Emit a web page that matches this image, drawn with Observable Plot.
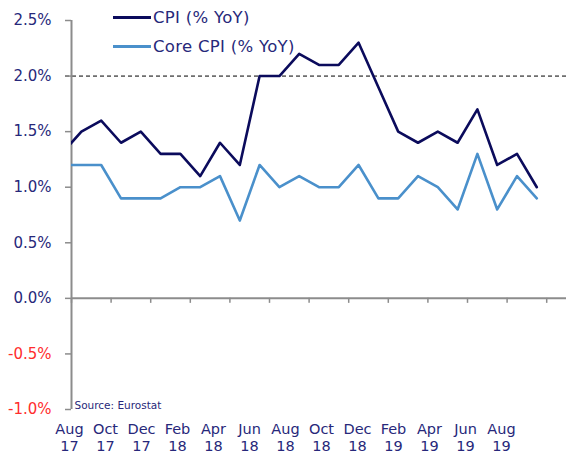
<!DOCTYPE html>
<html>
<head>
<meta charset="utf-8">
<script src="https://cdn.jsdelivr.net/npm/d3@7"></script>
<script src="https://cdn.jsdelivr.net/npm/@observablehq/plot@0.6"></script>
<style>
  html, body { margin: 0; padding: 0; background: #fff; }
  #wrap { position: relative; width: 566px; height: 455px; font-family: "DejaVu Sans", sans-serif; }
  #wrap svg { display: block; }
  .legend { position: absolute; left: 113px; font-size: 16.5px; color: #27287a; display: flex; align-items: center; white-space: nowrap; letter-spacing: 0.3px; }
  .legend .sw { width: 38px; height: 0; border-top-width: 3px; border-top-style: solid; margin-right: 2px; }
</style>
</head>
<body>
<div id="wrap"></div>
<script>
// Data (monthly, Jul 17 – Jul 19; Jul 17 falls just before the axis and is clipped)
const months = ["Jul 17","Aug 17","Sep 17","Oct 17","Nov 17","Dec 17","Jan 18","Feb 18","Mar 18","Apr 18","May 18","Jun 18","Jul 18","Aug 18","Sep 18","Oct 18","Nov 18","Dec 18","Jan 19","Feb 19","Mar 19","Apr 19","May 19","Jun 19","Jul 19"];
const cpi  = [1.3, 1.5, 1.6, 1.4, 1.5, 1.3, 1.3, 1.1, 1.4, 1.2, 2.0, 2.0, 2.2, 2.1, 2.1, 2.3, 1.9, 1.5, 1.4, 1.5, 1.4, 1.7, 1.2, 1.3, 1.0];
const core = [1.2, 1.2, 1.2, 0.9, 0.9, 0.9, 1.0, 1.0, 1.1, 0.7, 1.2, 1.0, 1.1, 1.0, 1.0, 1.2, 0.9, 0.9, 1.1, 1.0, 0.8, 1.3, 0.8, 1.1, 0.9];
const seriesNames = ["CPI (% YoY)", "Core CPI (% YoY)"];
const xTickLabels = ["Aug\n17","Oct\n17","Dec\n17","Feb\n18","Apr\n18","Jun\n18","Aug\n18","Oct\n18","Dec\n18","Feb\n19","Apr\n19","Jun\n19","Aug\n19"];
const yTicks = [-1.0, -0.5, 0.0, 0.5, 1.0, 1.5, 2.0, 2.5];
const target = 2.0;
const source = "Source: Eurostat";

const NAVY = "#27287a", RED = "#ff2d2d", GREY = "#8c8c8c";
const C_CPI = "#0b0b5c", C_CORE = "#4a90cb";

const rows = months.map((m, i) => ({m, t: i - 0.5, cpi: cpi[i], core: core[i]}));
const xTickPos = d3.range(0, 25, 2);
const fmt = d => (d < 0 ? "-" : "") + Math.abs(d).toFixed(1) + "%";

const main = Plot.plot({
  width: 566, height: 418,
  marginLeft: 71, marginRight: 0, marginTop: 20, marginBottom: 9,
  style: {fontFamily: "DejaVu Sans, sans-serif", fontSize: "15px", background: "white"},
  x: {type: "linear", domain: [0, 25], axis: null},
  y: {domain: [-1, 2.5], axis: null},
  marks: [
    Plot.ruleY([target], {stroke: "black", strokeWidth: 1, strokeDasharray: "4,3", insetLeft: -6}),
    Plot.ruleY([0], {stroke: GREY, strokeWidth: 2}),
    Plot.ruleX(xTickPos, {x: d => d, y1: () => 0, y2: () => 0, insetBottom: -5, stroke: GREY, strokeWidth: 1.5}),
    Plot.ruleX([0], {stroke: GREY, strokeWidth: 2}),
    Plot.axisY(yTicks.filter(d => d >= 0), {anchor: "left", tickSize: 6, tickPadding: 14, tickFormat: fmt, fill: NAVY, stroke: GREY, strokeWidth: 1.5, label: null, fontSize: 15}),
    Plot.axisY(yTicks.filter(d => d < 0), {anchor: "left", tickSize: 6, tickPadding: 14, tickFormat: fmt, fill: RED, stroke: GREY, strokeWidth: 1.5, label: null, fontSize: 15}),
    Plot.line(rows, {x: "t", y: "core", stroke: C_CORE, strokeWidth: 2.6, clip: true}),
    Plot.line(rows, {x: "t", y: "cpi", stroke: C_CPI, strokeWidth: 2.6, clip: true}),
    Plot.text([source], {frameAnchor: "bottom-left", textAnchor: "start", lineAnchor: "bottom", dx: 3, dy: -1, fill: NAVY, fontSize: 10.5})
  ]
});

const labels = Plot.plot({
  width: 566, height: 37,
  marginLeft: 66, marginRight: 62, marginTop: 0, marginBottom: 0,
  style: {fontFamily: "DejaVu Sans, sans-serif", fontSize: "15px", background: "white", overflow: "visible"},
  x: {type: "point", domain: xTickLabels, padding: 0, axis: null},
  marks: [
    Plot.text(xTickLabels, {x: d => d, frameAnchor: "top", lineAnchor: "top", dy: 3, lineHeight: 1.18, fill: NAVY, fontSize: 14.5})
  ]
});

const wrap = document.getElementById("wrap");
wrap.appendChild(main);
wrap.appendChild(labels);

const colors = [C_CPI, C_CORE];
const tops = [8, 37];
seriesNames.forEach((name, i) => {
  const el = document.createElement("div");
  el.className = "legend";
  el.style.top = tops[i] + "px";
  el.innerHTML = `<span class="sw" style="border-top-color:${colors[i]}"></span><span>${name}</span>`;
  wrap.appendChild(el);
});
</script>
</body>
</html>
